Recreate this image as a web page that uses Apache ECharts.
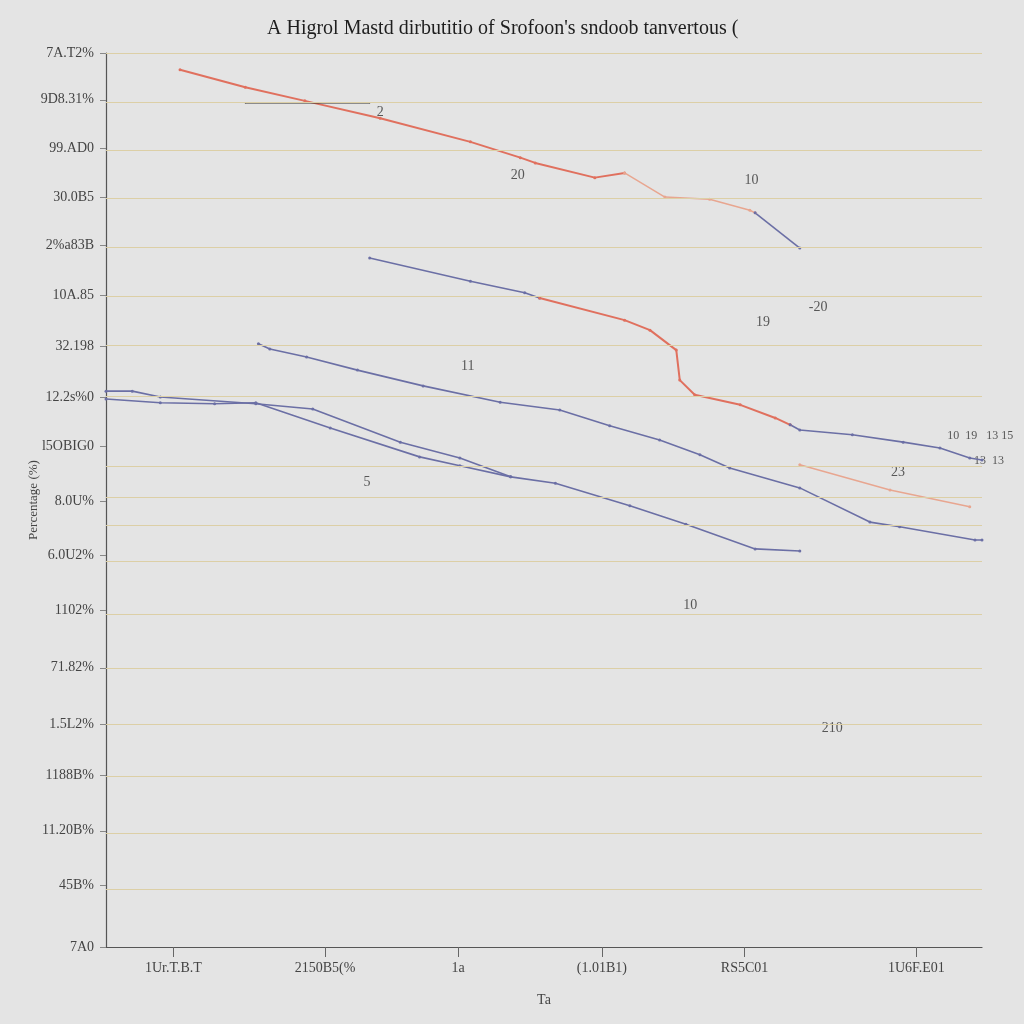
<!DOCTYPE html>
<html>
<head>
<meta charset="utf-8">
<title>chart</title>
<script src="https://cdn.jsdelivr.net/npm/echarts@6/dist/echarts.min.js"></script>
<style>
html,body{margin:0;padding:0;background:#e4e4e4;}
#main{width:1024px;height:1024px;}
</style>
</head>
<body>
<div id="main"></div>
<script>
// y axis labels, bottom to top
var yTickValues = [0, 11.8, 22.1, 32.7, 42.4, 53.1, 64.1, 74.4, 84.8, 95.3, 104.6, 114.3, 124.0, 133.5, 142.6, 151.9, 161.1, 170];
var yTickLabels = ['7A0', '45B%', '11.20B%', '1188B%', '1.5L2%', '71.82%', '1102%', '6.0U2%', '8.0U%', 'l5OBIG0', '12.2s%0', '32.198', '10A.85', '2%a83B', '30.0B5', '99.AD0', '9D8.31%', '7A.T2%'];
// horizontal rules (they do not sit exactly on the labels)
var gridValues = [11.0, 21.7, 32.5, 42.4, 53.1, 63.3, 73.4, 80.2, 85.6, 91.5, 104.8, 114.5, 123.8, 133.1, 142.4, 151.6, 160.7, 170];
// x axis labels
var xTickValues = [7.7, 25.0, 40.2, 56.6, 72.9, 92.5];
var xTickLabels = ['1Ur.T.B.T', '2150B5(%', '1a', '(1.01B1)', 'RS5C01', '1U6F.E01'];

// line pieces
var redTop = [[8.45,166.8],[15.9,163.5],[22.7,160.9],[31.3,157.6],[41.6,153.1],[47.3,150.1],[49.0,149.1],[55.8,146.3],[59.2,147.2]];
var redTopFade = [[59.2,147.2],[63.8,142.6],[68.9,142.2],[73.5,140.1],[74.1,139.6]];
var blueTopTail = [[74.1,139.6],[79.2,132.9]];
var blackFlat = [[15.9,160.5],[30.1,160.5]];
var blueMidHead = [[30.1,131.0],[41.6,126.6],[47.8,124.4],[49.5,123.4]];
var redMid = [[49.5,123.4],[59.2,119.2],[62.1,117.3],[65.1,113.5],[65.5,107.8],[67.2,105.0],[72.4,103.1],[76.4,100.6],[78.1,99.3]];
var blueMidTail = [[78.1,99.3],[79.2,98.3],[85.2,97.4],[91.0,96.0],[95.2,94.9],[98.6,93.0],[100,92.6]];
var redLowFade = [[79.2,91.7],[89.5,86.9],[98.6,83.7]];
var blueA = [[17.4,114.7],[18.7,113.7],[22.9,112.2],[28.7,109.7],[36.2,106.7],[45.0,103.6],[51.8,102.1],[57.5,99.1],[63.2,96.4],[67.8,93.6],[71.2,91.1],[79.2,87.3],[87.2,80.8],[90.6,79.9],[99.2,77.4],[100,77.4]];
var blueB = [[0,105.7],[3.0,105.7],[6.2,104.6],[17.1,103.3],[23.6,102.3],[33.6,96.0],[40.4,93.0],[46.2,89.4],[51.3,88.2],[59.8,83.9],[66.2,80.4],[74.1,75.7],[79.2,75.3]];
var blueC = [[0,104.2],[6.2,103.5],[12.4,103.3],[17.1,103.5],[25.6,98.7],[35.8,93.2],[40.4,91.5],[46.2,89.4]];

// loose number labels on the plot
var annoX = [31.3, 47.0, 73.7, 81.3, 75.0, 41.3, 29.8, 90.4, 66.7, 82.9, 99.8, 100.8];
var annoY = [158.8, 146.7, 145.7, 121.7, 118.7, 110.5, 88.4, 90.3, 65.0, 41.6, 97.2, 92.5];
var annoText = ['2', '20', '10', '-20', '19', '11', '5', '23', '10', '210', '10  19   13 15', '13  13'];

var RED = '#e0705e';
var BLUE = '#6b6fa5';
var serif = 'Liberation Serif';

function piece(data, color, width, sym){
  return {
    type: 'line',
    data: data,
    symbol: 'circle',
    symbolSize: sym || 3,
    showSymbol: true,
    lineStyle: { color: color, width: width },
    itemStyle: { color: color },
    silent: true
  };
}

var annoData = [];
for (var i = 0; i < annoText.length; i++) {
  annoData.push({
    value: [annoX[i], annoY[i]],
    name: annoText[i],
    label: { fontSize: i >= 10 ? 12 : 14 }
  });
}

var gridLines = piece(blueA, BLUE, 1.6);
gridLines.markLine = {
  silent: true,
  symbol: ['none', 'none'],
  label: { show: false },
  lineStyle: { color: '#dccfa6', type: 'solid', width: 1, opacity: 1 },
  data: gridValues.map(function(v){ return { yAxis: v }; })
};

var option = {
  backgroundColor: '#e4e4e4',
  animation: false,
  title: {
    text: "A Higrol Mastd dirbutitio of Srofoon's sndoob tanvertous (",
    left: 262,
    top: 14,
    textStyle: { fontFamily: serif, fontSize: 20, fontWeight: 'normal', color: '#1e1e1e' }
  },
  grid: { left: 106, right: 42, top: 53, bottom: 77 },
  xAxis: {
    type: 'value',
    min: 0,
    max: 100,
    name: 'Ta',
    nameLocation: 'middle',
    nameGap: 46,
    nameTextStyle: { fontFamily: serif, fontSize: 14, color: '#444' },
    axisLine: { lineStyle: { color: '#555', width: 1.2 } },
    axisTick: { show: true, length: 10, customValues: xTickValues, lineStyle: { color: '#666' } },
    axisLabel: {
      customValues: xTickValues,
      margin: 14,
      fontFamily: serif, fontSize: 14, color: '#444',
      formatter: function(v){
        var k = xTickValues.indexOf(v);
        return k >= 0 ? xTickLabels[k] : '';
      }
    },
    splitLine: { show: false }
  },
  yAxis: {
    type: 'value',
    min: 0,
    max: 170,
    name: 'Percentage (%)',
    nameLocation: 'middle',
    nameGap: 66,
    nameMoveOverlap: false,
    nameTextStyle: { fontFamily: serif, fontSize: 13, color: '#444' },
    axisLine: { show: true, lineStyle: { color: '#555', width: 1.2 } },
    axisTick: { show: true, length: 6, customValues: yTickValues, lineStyle: { color: '#888' } },
    axisLabel: {
      customValues: yTickValues,
      margin: 12,
      fontFamily: serif, fontSize: 14, color: '#444',
      formatter: function(v){
        var k = yTickValues.indexOf(v);
        return k >= 0 ? yTickLabels[k] : '';
      }
    },
    splitLine: { show: false }
  },
  series: [
    gridLines,
    piece(blueB, BLUE, 1.6),
    piece(blueC, BLUE, 1.6),
    piece(redTop, RED, 2),
    piece(redTopFade, '#e8a690', 1.5),
    piece(blueTopTail, BLUE, 1.6),
    piece(blackFlat, '#333', 1.2, 1),
    piece(blueMidHead, BLUE, 1.6),
    piece(redMid, RED, 2),
    piece(blueMidTail, BLUE, 1.6),
    piece(redLowFade, '#e8a690', 1.5),
    {
      type: 'scatter',
      data: annoData,
      symbolSize: 1,
      clip: false,
      silent: true,
      itemStyle: { color: 'rgba(0,0,0,0)' },
      label: {
        show: true,
        position: 'inside',
        formatter: '{b}',
        fontFamily: serif,
        fontSize: 14,
        color: '#333'
      }
    }
  ]
};

var chart = echarts.init(document.getElementById('main'));
chart.setOption(option);
</script>
</body>
</html>
